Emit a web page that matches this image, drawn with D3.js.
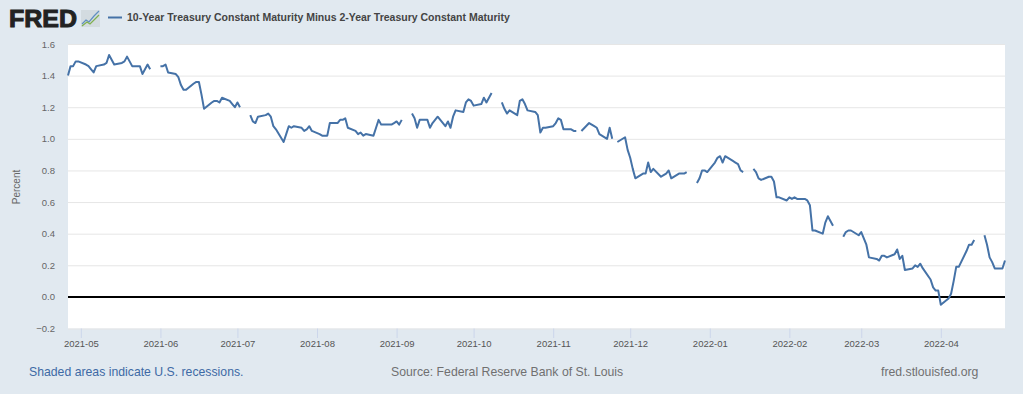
<!DOCTYPE html>
<html>
<head>
<meta charset="utf-8">
<script src="https://cdn.jsdelivr.net/npm/d3@7"></script>
<style>
  html, body { margin: 0; padding: 0; background: #e1e9f0; overflow: hidden; }
  svg { display: block; font-family: "Liberation Sans", Arial, sans-serif; }
  .domain { display: none; }
</style>
</head>
<body>
<div class="container_main"></div>
<script>
// T10Y2Y, one value per weekday, null = market holiday (line breaks there)
const apr21 = [1.40, 1.46, 1.46, 1.49, 1.49];
const may21 = [1.47, 1.46, 1.44, 1.42, 1.46, 1.47, 1.48, 1.53, 1.50, 1.47, 1.48, 1.49, 1.52, 1.49, 1.46, 1.46, 1.41, 1.44, 1.47, 1.44, null];
const jun21 = [1.46, 1.46, 1.47, 1.42, 1.41, 1.39, 1.34, 1.31, 1.31, 1.35, 1.36, 1.36, 1.28, 1.19, 1.23, 1.24, 1.24, 1.23, 1.26, 1.24, 1.22, 1.20];
const jul21 = [1.23, 1.20, null, 1.15, 1.11, 1.10, 1.14, 1.15, 1.16, 1.14, 1.08, 1.06, 0.98, 1.03, 1.08, 1.07, 1.08, 1.07, 1.05, 1.06, 1.08, 1.05];
const aug21 = [1.03, 1.02, 1.02, 1.02, 1.10, 1.10, 1.12, 1.12, 1.13, 1.07, 1.05, 1.03, 1.04, 1.02, 1.03, 1.02, 1.07, 1.12, 1.09, 1.09, 1.09, 1.10];
const sep21 = [1.11, 1.09, 1.12, null, 1.16, 1.13, 1.07, 1.12, 1.12, 1.07, 1.10, 1.12, 1.14, 1.08, 1.11, 1.07, 1.14, 1.18, 1.17, 1.23, 1.25, 1.24];
const oct21 = [1.21, 1.22, 1.26, 1.23, 1.26, 1.29, null, 1.23, 1.19, 1.16, 1.18, 1.15, 1.24, 1.25, 1.22, 1.18, 1.17, 1.15, 1.04, 1.07, 1.07];
const nov21 = [1.08, 1.10, 1.13, 1.12, 1.06, 1.06, 1.05, 1.05, null, 1.05, 1.10, 1.09, 1.08, 1.07, 1.03, 1.00, 1.07, 1.00, null, 0.98, 1.01, 0.93];
const dec21 = [0.88, 0.81, 0.75, 0.78, 0.78, 0.85, 0.79, 0.81, 0.76, 0.77, 0.78, 0.80, 0.75, 0.78, 0.78, 0.78, 0.79, null, 0.72, 0.75, 0.80, 0.80, 0.79];
const jan22 = [0.85, 0.88, 0.89, 0.85, 0.89, 0.86, 0.85, 0.84, 0.80, 0.79, null, 0.81, 0.79, 0.75, 0.74, 0.76, 0.76, 0.73, 0.63, 0.63, 0.61];
const feb22 = [0.63, 0.62, 0.63, 0.62, 0.62, 0.61, 0.58, 0.42, 0.42, 0.40, 0.47, 0.51, 0.48, 0.45, null, 0.38, 0.41, 0.42, 0.42, 0.39];
const mar22 = [0.41, 0.37, 0.33, 0.25, 0.24, 0.23, 0.26, 0.26, 0.25, 0.27, 0.30, 0.24, 0.26, 0.17, 0.18, 0.20, 0.19, 0.21, 0.18, 0.11, 0.06, 0.04, 0.04];
const apr22 = [-0.05, -0.01, 0.02, 0.10, 0.19, 0.19, 0.29, 0.33, 0.33, 0.36, null, 0.39, 0.33, 0.25, 0.22, 0.18, 0.18, 0.23];

const yTicks = [-0.2, 0, 0.2, 0.4, 0.6, 0.8, 1.0, 1.2, 1.4, 1.6];
const seriesName = "10-Year Treasury Constant Maturity Minus 2-Year Treasury Constant Maturity";

const svgwidth = 1023;
const svgheight = 394;
const margin = {top: 44, right: 18, bottom: 65.5, left: 68};
const mywidth = svgwidth - margin.left - margin.right;
const myheight = svgheight - margin.top - margin.bottom;

const startDate = new Date(Date.UTC(2021, 3, 26));
const endDate = new Date(Date.UTC(2022, 3, 26));

// weekdays line up one to one with the monthly arrays
const weekdays = d3.utcDay.range(startDate, d3.utcDay.offset(endDate, 1))
    .filter(function(d) { return d.getUTCDay() != 0 && d.getUTCDay() != 6; });
const spread = [].concat(apr21, may21, jun21, jul21, aug21, sep21, oct21, nov21, dec21, jan22, feb22, mar22, apr22);
const points = weekdays.map(function(d, i) { return {date: d, value: spread[i]}; });

const svg = d3.select(".container_main")
    .append("svg")
    .attr("width", svgwidth)
    .attr("height", svgheight);

// header: logo + legend
const logo = svg.append("g");
logo.append("text")
    .attr("x", 9)
    .attr("y", 27)
    .attr("font-size", 24.5)
    .attr("font-weight", "bold")
    .attr("fill", "#222")
    .attr("stroke", "#222")
    .attr("stroke-width", 1)
    .attr("textLength", 68)
    .attr("lengthAdjust", "spacingAndGlyphs")
    .text("FRED");
logo.append("rect")
    .attr("x", 81).attr("y", 10)
    .attr("width", 19).attr("height", 17)
    .attr("fill", "#d3dbe0");
logo.append("path")
    .attr("d", "M82,24 L86,20 L89,22 L94,16 L99,11")
    .attr("fill", "none").attr("stroke", "#5f8fc0").attr("stroke-width", 1.2);
logo.append("path")
    .attr("d", "M82,26 L87,22 L90,24 L95,19 L99,15")
    .attr("fill", "none").attr("stroke", "#7fb04f").attr("stroke-width", 1.2);

svg.append("line")
    .attr("x1", 108).attr("x2", 122)
    .attr("y1", 17.5).attr("y2", 17.5)
    .attr("stroke", "#4572a7")
    .attr("stroke-width", 2);
svg.append("text")
    .attr("x", 127)
    .attr("y", 21)
    .attr("font-size", 10.5)
    .attr("font-weight", "bold")
    .attr("fill", "#444")
    .text(seriesName);

const plot = svg.append("g")
    .attr("transform", "translate(" + margin.left + "," + margin.top + ")");

plot.append("rect")
    .attr("width", mywidth)
    .attr("height", myheight)
    .attr("fill", "#fff");

const posX = d3.scaleUtc()
    .domain([startDate, endDate])
    .range([0, mywidth]);
const posY = d3.scaleLinear()
    .domain([-0.2, 1.6])
    .range([myheight, 0]);

// grid + y labels
const yAxis = plot.append("g")
    .attr("class", "axis axis--y")
    .call(d3.axisLeft(posY)
        .tickValues(yTicks)
        .tickSize(-mywidth)
        .tickPadding(13)
        .tickFormat(d3.format(".1f")));
yAxis.selectAll(".tick line").attr("stroke", "#e6e6e6");
yAxis.selectAll(".tick text")
    .attr("font-size", 9.5)
    .attr("fill", "#666");

const xAxis = plot.append("g")
    .attr("class", "axis axis--x")
    .attr("transform", "translate(0," + myheight + ")")
    .call(d3.axisBottom(posX)
        .ticks(d3.utcMonth.every(1))
        .tickSize(9.5)
        .tickPadding(2)
        .tickFormat(d3.utcFormat("%Y-%m")));
xAxis.selectAll(".tick line").attr("stroke", "#ccd6eb");
xAxis.selectAll(".tick text")
    .attr("font-size", 9.5)
    .attr("fill", "#555");

// zero line
plot.append("line")
    .attr("x1", 0)
    .attr("x2", mywidth)
    .attr("y1", posY(0))
    .attr("y2", posY(0))
    .attr("stroke", "#000")
    .attr("stroke-width", 2);

const line = d3.line()
    .defined(function(d) { return d.value != null; })
    .x(function(d) { return posX(d.date); })
    .y(function(d) { return posY(d.value); });

plot.append("path")
    .datum(points)
    .attr("fill", "none")
    .attr("stroke", "#4572a7")
    .attr("stroke-width", 2)
    .attr("stroke-linejoin", "round")
    .attr("d", line);

// y title
svg.append("text")
    .attr("transform", "translate(20,187) rotate(-90)")
    .attr("text-anchor", "middle")
    .attr("font-size", 10)
    .attr("fill", "#666")
    .text("Percent");

// footer
svg.append("text")
    .attr("x", 29).attr("y", 376)
    .attr("font-size", 12.25)
    .attr("fill", "#3e6aa5")
    .text("Shaded areas indicate U.S. recessions.");
svg.append("text")
    .attr("x", 391).attr("y", 376)
    .attr("font-size", 12.25)
    .attr("fill", "#707070")
    .text("Source: Federal Reserve Bank of St. Louis");
svg.append("text")
    .attr("x", 881).attr("y", 376)
    .attr("font-size", 12.25)
    .attr("fill", "#707070")
    .text("fred.stlouisfed.org");
</script>
</body>
</html>
